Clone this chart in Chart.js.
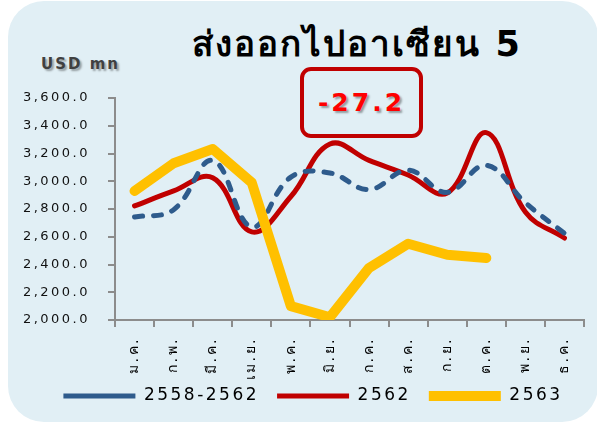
<!DOCTYPE html>
<html>
<head>
<meta charset="utf-8">
<script src="https://cdn.jsdelivr.net/npm/chart.js"></script>
<style>
  html, body { margin: 0; padding: 0; background: #fff; }
  #wrap { position: relative; width: 597px; height: 423px; overflow: hidden; }
  #card { position: absolute; left: 8px; top: 1px; width: 590px; height: 421px;
          background: #e1eff5; border-radius: 36px; }
  #title { position: absolute; left: 150px; width: 414px; top: 16px; text-align: center;
           font: bold 35px "DejaVu Sans", "Noto Sans", sans-serif; color: #000; letter-spacing: 2px; }
  #unit { position: absolute; left: 41px; top: 55px; font: bold 15px "DejaVu Sans", sans-serif;
          color: #404040; letter-spacing: 2px; text-shadow: 2px 2px 2px rgba(0,0,0,0.35); }
  #box { position: absolute; left: 300px; top: 67px; width: 115px; height: 63px;
         border: 4px solid #c00000; border-radius: 11px;
         display: flex; align-items: center; justify-content: center;
         font: bold 25px "DejaVu Sans", sans-serif; color: #ff0000; letter-spacing: 3px;
         text-shadow: 2px 2px 2px rgba(0,0,0,0.35); }
  canvas { position: absolute; left: 0; top: 0; }
</style>
</head>
<body>
<div id="wrap">
  <div id="card"></div>
  <div id="title">ส่งออกไปอาเซียน 5</div>
  <div id="unit">USD mn</div>
  <div id="box">-27.2</div>
  <canvas id="chart" width="597" height="423"></canvas>
</div>
<script>
// ข้อมูล
const months = ['ม.ค.', 'ก.พ.', 'มี.ค.', 'เม.ย.', 'พ.ค.', 'มิ.ย.', 'ก.ค.', 'ส.ค.', 'ก.ย.', 'ต.ค.', 'พ.ย.', 'ธ.ค.'];
const avg2558_2562 = [2742, 2795, 3150, 2670, 3030, 3060, 2940, 3080, 2920, 3115, 2845, 2625];
const y2562 = [2822, 2930, 3025, 2635, 2890, 3268, 3150, 3045, 2915, 3350, 2778, 2591];
const y2563 = [2930, 3130, 3232, 2990, 2100, 2020, 2375, 2550, 2470, 2447];
const yTicks = { min: 2000, max: 3600, step: 200 };

const FONT = '"DejaVu Sans", "Noto Sans", sans-serif';
const LEGEND_PAD = 18;

// ระยะห่างตัวอักษรบน canvas + จัดตำแหน่ง legend
const tweaks = {
    id: 'tweaks',
    afterInit(c) {
        const lg = c.legend;
        const fit = lg.fit;
        lg.fit = function () { fit.call(this); this.height = 37; };
    },
    beforeUpdate(c) { c.ctx.letterSpacing = '2.5px'; },
    beforeDraw(c) {
        c.ctx.letterSpacing = '2.5px';
        c.legend.left = 35;
        c.legend.right = 591;
        c.legend.top = 396 - LEGEND_PAD - 8.5;
    }
};

new Chart(document.getElementById('chart'), {
    type: 'line',
    data: {
        labels: months,
        datasets: [
            {
                label: '2558-2562',
                data: avg2558_2562,
                borderColor: '#2e5b8c',
                backgroundColor: '#2e5b8c',
                borderWidth: 5,
                borderDash: [8, 11],
                borderCapStyle: 'round',
                tension: 0.4,
                pointRadius: 0,
                order: 2
            },
            {
                label: '2562',
                data: y2562,
                borderColor: '#c00000',
                backgroundColor: '#c00000',
                borderWidth: 5,
                borderCapStyle: 'round',
                tension: 0.4,
                pointRadius: 0,
                order: 3
            },
            {
                label: '2563',
                data: y2563,
                borderColor: '#ffc000',
                backgroundColor: '#ffc000',
                borderWidth: 10,
                borderCapStyle: 'round',
                borderJoinStyle: 'round',
                tension: 0,
                pointRadius: 0,
                order: 1
            }
        ]
    },
    options: {
        responsive: false,
        animation: false,
        layout: { padding: { left: 0, right: 13, top: 98, bottom: 4 } },
        plugins: {
            tooltip: { enabled: false },
            legend: {
                position: 'bottom',
                labels: {
                    usePointStyle: true,
                    pointStyle: 'line',
                    pointStyleWidth: 72,
                    padding: LEGEND_PAD,
                    color: '#000',
                    font: { family: FONT, size: 17 },
                    sort: (a, b) => a.datasetIndex - b.datasetIndex
                }
            }
        },
        scales: {
            y: {
                min: yTicks.min,
                max: yTicks.max,
                afterFit: (s) => { s.width = 115; },
                border: { color: '#8c8c8c', width: 2 },
                grid: { drawOnChartArea: false, tickLength: 7, color: '#8c8c8c', lineWidth: 2 },
                ticks: {
                    stepSize: yTicks.step,
                    padding: 18,
                    color: '#111',
                    font: { family: FONT, size: 13 },
                    callback: (v) => v.toLocaleString('en-US', { minimumFractionDigits: 1, maximumFractionDigits: 1 })
                }
            },
            x: {
                offset: true,
                afterFit: (s) => { s.height = 62; },
                border: { color: '#8c8c8c', width: 2 },
                grid: { offset: true, drawOnChartArea: false, tickLength: 7, color: '#8c8c8c', lineWidth: 2 },
                ticks: {
                    minRotation: 90,
                    maxRotation: 90,
                    padding: 10,
                    color: '#000',
                    font: { family: FONT, size: 14 }
                }
            }
        }
    },
    plugins: [tweaks]
});
</script>
</body>
</html>
